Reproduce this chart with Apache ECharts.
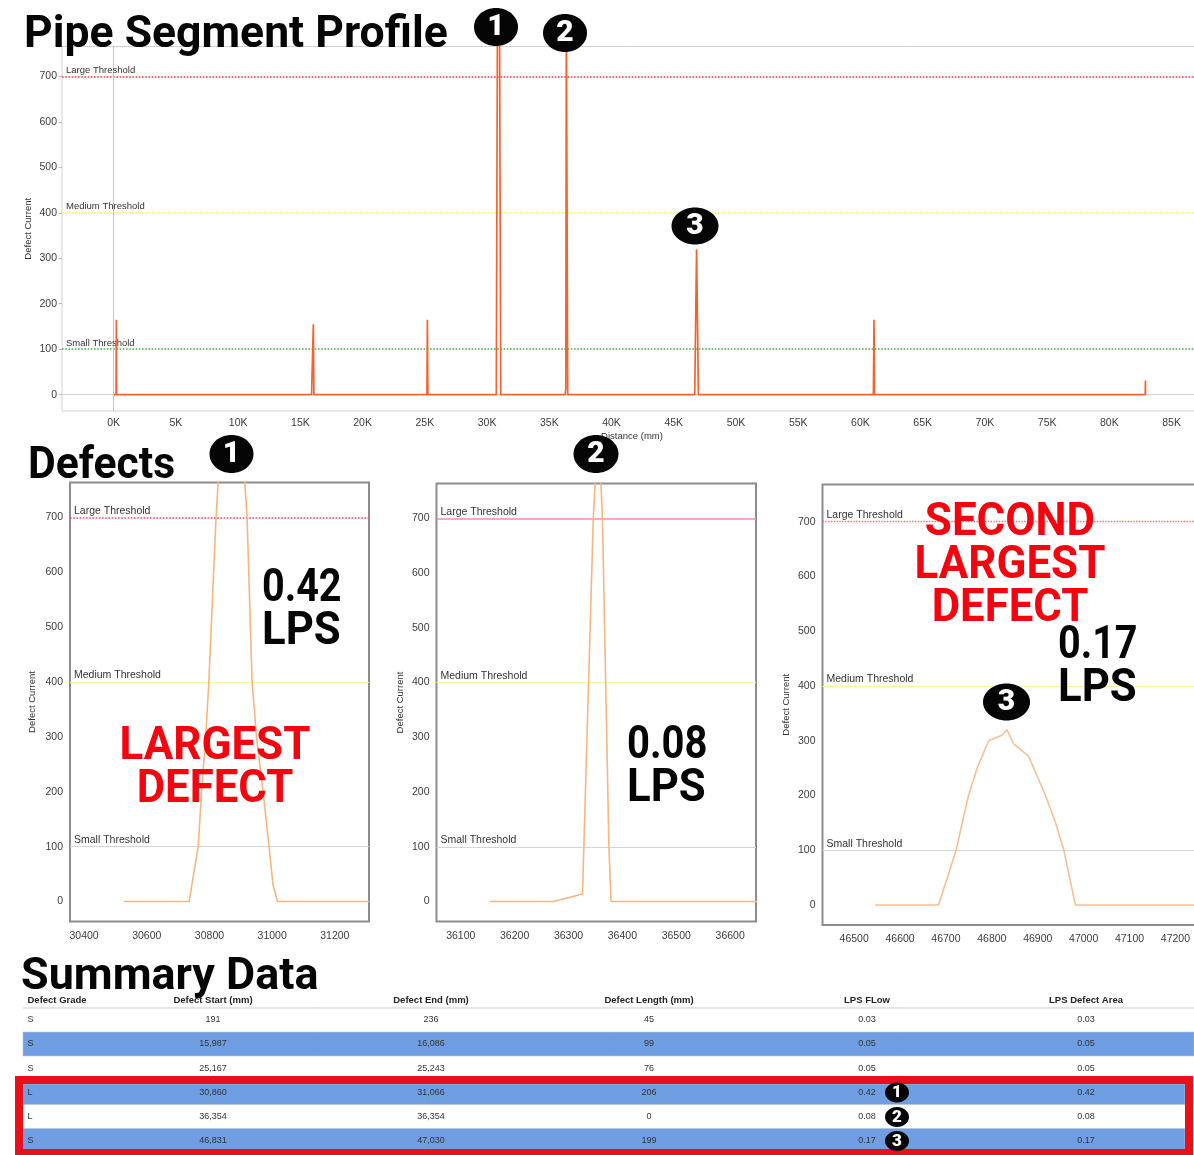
<!DOCTYPE html>
<html>
<head>
<meta charset="utf-8">
<script src="https://cdn.jsdelivr.net/npm/echarts@6/dist/echarts.min.js"></script>
<style>html,body{margin:0;padding:0;background:#fff}#c{width:1194px;height:1155px}</style>
</head>
<body>
<div id="c"></div>
<script>
// ---- data ----
const thresholdNames = ['Large Threshold', 'Medium Threshold', 'Small Threshold'];
const thresholdValues = [700, 400, 100];
const yTicks = [0, 100, 200, 300, 400, 500, 600, 700];

const overviewTicks = [0,5000,10000,15000,20000,25000,30000,35000,40000,45000,50000,55000,60000,65000,70000,75000,80000,85000];
const overviewX = [0,191,214,236,15900,15987,16040,16086,25167,25205,25243,30740,30835,31000,31100,36272,36326,36370,36440,36480,46684,46833,46982,61040,61090,61130,82880,82900,82910];
const overviewY = [0,0,165,0,0,0,155,0,0,165,0,0,830,830,0,0,14,830,830,0,0,320,0,0,165,0,0,31,0];

const defect1Ticks = [30400,30600,30800,31000,31200];
const defect1X = [30527,30735,30764,30775,30788,30798,30821,30835,30905,30920,30936,30950,30971,30990,31003,31017,31310];
const defect1Y = [0,0,100,200,300,400,700,830,830,700,400,300,200,100,30,0,0];

const defect2Ticks = [36100,36200,36300,36400,36500,36600];
const defect2X = [36154,36272,36326,36346,36351,36359,36363,36375,36379,36650];
const defect2Y = [0,0,14,700,790,790,700,100,0,0];

const defect3Ticks = [46500,46600,46700,46800,46900,47000,47100,47200];
const defect3X = [46546,46684,46722,46749,46768,46793,46822,46833,46847,46880,46917,46939,46957,46982,47260];
const defect3Y = [0,0,100,200,250,300,310,320,295,272,200,150,100,0,0];

const tableHeaders = ['Defect Grade','Defect Start (mm)','Defect End (mm)','Defect Length (mm)','LPS FLow','LPS Defect Area'];
const defectGrade = ['S','S','S','L','L','S'];
const defectStart = ['191','15,987','25,167','30,860','36,354','46,831'];
const defectEnd = ['236','16,086','25,243','31,066','36,354','47,030'];
const defectLength = ['45','99','76','206','0','199'];
const lpsFlow = ['0.03','0.05','0.05','0.42','0.08','0.17'];
const lpsArea = ['0.03','0.05','0.05','0.42','0.08','0.17'];

// ---- helpers ----
const pairs = (xs, ys) => xs.map((x, i) => [x, ys[i]]);
const SANS = '"Liberation Sans", Arial, sans-serif';
const HEAD = 'Roboto, sans-serif';
const grids = [
  {left:62, top:46.5, width:1140, height:364.5, xMin:-4154, xMax:87443, yMin:-36, yMax:766, ticks:overviewTicks, x:overviewX, y:overviewY, name:'Distance (mm)', line:'#f4622e', lw:1.7, k:true, fs:9.5, border:'#d2d2d2', bw:1, yGap:28.5},
  {left:70, top:482.5, width:299, height:439, xMin:30355, xMax:31309, yMin:-36.4, yMax:763.6, ticks:defect1Ticks, x:defect1X, y:defect1Y, line:'#f6b680', lw:1.6, fs:10.5, border:'#8c8c8c', bw:2, yGap:33},
  {left:436.5, top:483.5, width:319.5, height:438, xMin:36055, xMax:36648, yMin:-36.4, yMax:763.6, ticks:defect2Ticks, x:defect2X, y:defect2Y, line:'#f6b680', lw:1.6, fs:10.5, border:'#8c8c8c', bw:2, yGap:31},
  {left:822.5, top:484.5, width:380, height:440.5, xMin:46431, xMax:47259, yMin:-36.4, yMax:768, ticks:defect3Ticks, x:defect3X, y:defect3Y, line:'#f6bf94', lw:1.6, fs:10.5, border:'#8c8c8c', bw:2, yGap:31}
];
const thresholdStyles = [
  [{color:'#ff3358',type:'dotted',width:1.6},{color:'#f5f532',type:'dotted',width:1.6},{color:'#45b045',type:'dotted',width:1.6}],
  [{color:'#ff4a55',type:'dotted',width:1.6},{color:'#f7f7a0',type:'solid',width:1},{color:'#cfd8d4',type:'solid',width:1}],
  [{color:'#ff8aa0',type:'solid',width:1.6},{color:'#f7f7a0',type:'solid',width:1},{color:'#cfd8d4',type:'solid',width:1}],
  [{color:'#ff6a78',type:'dotted',width:1.4},{color:'#f7f7a0',type:'solid',width:1},{color:'#cfd8d4',type:'solid',width:1}]
];

const option = {
  animation:false,
  backgroundColor:'#fff',
  grid: grids.map(g => ({left:g.left, top:g.top, width:g.width, height:g.height, show:true, borderColor:g.border, borderWidth:g.bw, backgroundColor:'transparent', containLabel:false, outerBoundsMode:'none'})),
  xAxis: grids.map((g,i) => ({
    type:'value', gridIndex:i, min:g.xMin, max:g.xMax, splitLine:{show:false},
    name:g.name||'', nameLocation:'middle', nameGap:20, nameMoveOverlap:false,
    nameTextStyle:{fontFamily:SANS, fontSize:9.5, color:'#333'},
    axisLine:{show:false, onZero:false},
    axisTick:{show:false, customValues:g.ticks},
    axisLabel:{customValues:g.ticks, fontFamily:SANS, fontSize:10.5, color:'#3c3c3c', margin:g.k?7:9,
      formatter:v => g.k ? (v/1000)+'K' : String(v)}
  })),
  yAxis: grids.map((g,i) => ({
    type:'value', gridIndex:i, min:g.yMin, max:g.yMax, splitLine:{show:false},
    name:'Defect Current', nameLocation:'middle', nameGap:g.yGap, nameMoveOverlap:false,
    nameTextStyle:{fontFamily:SANS, fontSize:9.5, color:'#333'},
    axisLine:{show:false, onZero:false},
    axisTick:{show:g.k===true, length:3, customValues:yTicks, lineStyle:{color:'#bbb'}},
    axisLabel:{customValues:yTicks, fontFamily:SANS, fontSize:10.5, color:'#3c3c3c', margin:g.k?5:7, formatter:v => String(v)}
  })),
  series: grids.map((g,i) => ({
    type:'line', xAxisIndex:i, yAxisIndex:i, data:pairs(g.x,g.y), showSymbol:false, clip:true, z:3,
    lineStyle:{color:g.line, width:g.lw},
    markLine:{
      silent:true, symbol:'none', animation:false, z:2,
      data: thresholdValues.map((v,t) => ({
        yAxis:v, name:thresholdNames[t], lineStyle:thresholdStyles[i][t],
        label:{show:true, position:'insideStartTop', formatter:'{b}', fontFamily:SANS, fontSize:g.fs, color:'#333', distance:[4,1]}
      })).concat(g.k ? [
        {xAxis:0, lineStyle:{color:'#c4c4c4',type:'solid',width:1}, label:{show:false}},
        {yAxis:0, lineStyle:{color:'#d2d2d2',type:'solid',width:1}, label:{show:false}}
      ] : [])
    }
  })),
  graphic:{elements:[]}
};

// ---- overlays ----
const els = option.graphic.elements;
function head(text,x,y,align,fs,fill,sx){
  els.push({type:'text',x,y,scaleX:sx,z:30,silent:true,style:{text,fontFamily:HEAD,fontWeight:700,fontSize:fs,fill,textAlign:align,textVerticalAlign:'middle'}});
}
function badge(text,x,y,w,h,fs){
  els.push({type:'ellipse',shape:{cx:x,cy:y,rx:w/2,ry:h/2},z:31,silent:true,style:{fill:'#050505'}});
  els.push({type:'text',x,y:y+0.5,z:32,silent:true,style:{text,fontFamily:HEAD,fontWeight:900,fontSize:fs,fill:'#fff',textAlign:'center',textVerticalAlign:'middle'}});
}
head('Pipe Segment Profile',24,36,'left',44,'#050505',1.012);
head('Defects',28,467,'left',44,'#050505',0.97);
head('Summary Data',21,978,'left',44,'#050505',1.02);
head('0.42',262,589,'left',46,'#050505',0.86);
head('LPS',262,632,'left',46,'#050505',0.95);
head('0.08',627,746,'left',46,'#050505',0.87);
head('LPS',627,789,'left',46,'#050505',0.95);
head('0.17',1058,646,'left',46,'#050505',0.86);
head('LPS',1058,689,'left',46,'#050505',0.95);
head('LARGEST',215,747,'center',46,'#f5040f',0.955);
head('DEFECT',215,790,'center',46,'#f5040f',0.95);
head('SECOND',1010,523,'center',46,'#f5040f',0.955);
head('LARGEST',1010,566,'center',46,'#f5040f',0.955);
head('DEFECT',1010,609,'center',46,'#f5040f',0.95);

badge('1',496,27,44,38,30);
badge('2',565,33,44,38,30);
badge('3',695,226,47,37,30);
badge('1',231.5,454,44,38,30);
badge('2',596,454,45,38,30);
badge('3',1006.5,702,47,37,30);
badge('1',897,1092.5,24,20,17);
badge('2',897,1117,24,20,17);
badge('3',897,1141,24,20,17);

// table
const columns = [defectGrade, defectStart, defectEnd, defectLength, lpsFlow, lpsArea];
const colX = [27.5, 213, 431, 649, 867, 1086];
const rowTop = [1008.5, 1032, 1056, 1084, 1104.5, 1128.5];
const rowBottom = [1032, 1056, 1076, 1104.5, 1128.5, 1149.5];
const rowText = [1019.5, 1044, 1068.5, 1092.5, 1116.5, 1141];
els.push({type:'line',z:5,silent:true,shape:{x1:23,y1:1008,x2:1194,y2:1008},style:{stroke:'#c8c8c8',lineWidth:1}});
rowTop.forEach((t,r) => {
  if (r%2===1) {
    const w = r===1 ? 1171 : 1162;
    els.push({type:'rect',z:5,silent:true,shape:{x:23,y:t,width:w,height:rowBottom[r]-t},style:{fill:'#6f9fe2',stroke:'#b9c2cf',lineWidth:0.6}});
  }
});
els.push({type:'rect',z:6,silent:true,shape:{x:19,y:1080,width:1170,height:73},style:{fill:'none',stroke:'#ea1019',lineWidth:8}});
els.push({type:'rect',z:6,silent:true,shape:{x:15,y:1149.5,width:1178,height:6},style:{fill:'#ea1019'}});
tableHeaders.forEach((h,c) => {
  els.push({type:'text',x:colX[c],y:1000.5,z:8,silent:true,style:{text:h,fontFamily:SANS,fontWeight:700,fontSize:9.5,fill:'#222',textAlign:c?'center':'left',textVerticalAlign:'middle'}});
  columns[c].forEach((v,r) => {
    els.push({type:'text',x:colX[c],y:rowText[r],z:8,silent:true,style:{text:v,fontFamily:SANS,fontSize:9,fill:'#333',textAlign:c?'center':'left',textVerticalAlign:'middle'}});
  });
});

const chart = echarts.init(document.getElementById('c'), null, {renderer:'canvas', width:1194, height:1155});
chart.setOption(option);
</script>
</body>
</html>
